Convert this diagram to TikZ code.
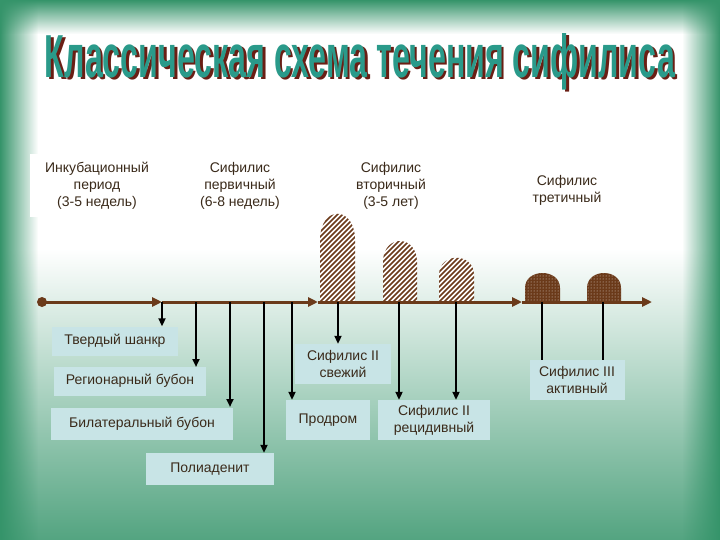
\documentclass[tikz,border=0pt]{standalone}
\usepackage{fontspec}
\setmainfont{Liberation Sans}
\usetikzlibrary{patterns,arrows.meta,fadings}
\definecolor{frame}{HTML}{35946A}
\definecolor{axisc}{HTML}{6B3A1A}
\definecolor{lowbox}{HTML}{C8E4E6}
\definecolor{txt}{HTML}{3A2A1A}
\definecolor{titlec}{HTML}{2A9A8A}
\definecolor{darkb}{HTML}{6A1E14}
\newcommand{\ttl}{\bfseries Классическая схема течения сифилиса}
\begin{document}
\begin{tikzpicture}[x=1pt,y=-1pt,
  topbox/.style={fill=white,align=center,font=\fontsize{14}{17}\selectfont,text=txt,inner sep=0pt},
  lowb/.style={fill=lowbox,align=center,font=\fontsize{14}{17}\selectfont,text=txt,inner sep=0pt},
  ax/.style={draw=axisc,line width=3pt,-{Triangle[length=10pt,width=9pt]}},
  vl/.style={draw=black,line width=2pt},
  va/.style={vl,-{Triangle[length=8pt,width=7pt]}}]
\useasboundingbox (0,0) rectangle (720,540);
\fill[white] (0,0) rectangle (720,250);
\shade[top color=white,bottom color=frame!85] (0,249) rectangle (720,540);
\fill[frame,path fading=east] (0,0) rectangle (38,540);
\fill[frame,path fading=west] (682,0) rectangle (720,540);
\fill[frame,path fading=south] (0,0) rectangle (720,34);
% title
\node (title) at (360,63) {\resizebox{630pt}{44pt}{\rlap{\hspace{0.08em}\raisebox{-0.06ex}{\color{darkb}\ttl}}\color{titlec}\ttl}};
% top boxes
\node[topbox,minimum width=135,minimum height=63] (t1) at (97,186) {Инкубационный\\период\\(3-5 недель)};
\node[topbox,minimum width=125,minimum height=63] (t2) at (240,186) {Сифилис\\первичный\\(6-8 недель)};
\node[topbox,minimum width=142,minimum height=63] (t3) at (391,186) {Сифилис\\вторичный\\(3-5 лет)};
\node[topbox,minimum width=119,minimum height=58] (t4) at (567,190) {Сифилис\\третичный};
% hatched bumps
\foreach \xa/\xb/\yt/\yc in {320/355/205/240,383/417/234/262,439/474/252/275}{
  \begin{scope}
  \path[clip] (\xa,302) -- (\xa,\yc) .. controls (\xa,\yt) and (\xb,\yt) .. (\xb,\yc) -- (\xb,302) -- cycle;
  \fill[white] (\xa,200) rectangle (\xb,302);
  \foreach \k in {-120,-115,...,40}{\draw[axisc,line width=1.6pt] (\xa+\k,302) -- (\xa+\k+110,192);}
  \end{scope}}
\foreach \xa/\xb in {525/560,587/621}{
\fill[axisc] (\xa,302) -- (\xa,288) .. controls (\xa,268) and (\xb,268) .. (\xb,288) -- (\xb,302) -- cycle;
\fill[pattern=dots,pattern color=white!80!axisc] (\xa,302) -- (\xa,288) .. controls (\xa,268) and (\xb,268) .. (\xb,288) -- (\xb,302) -- cycle;}
% axis
\coordinate (a0) at (42,302);
\coordinate (a1) at (162,302);
\coordinate (a2) at (318,302);
\coordinate (a3) at (522,302);
\coordinate (a4) at (652,302);
\fill[axisc] (a0) circle (5pt);
\draw[ax] (a0) -- (a1);
\draw[ax] (a1) -- (a2);
\draw[ax] (a2) -- (a3);
\draw[ax] (a3) -- (a4);
% lower boxes
\node[lowb,minimum width=126,minimum height=29] (b1) at (115,341) {Твердый шанкр};
\node[lowb,minimum width=152,minimum height=29] (b2) at (130,381) {Регионарный бубон};
\node[lowb,minimum width=182,minimum height=32] (b3) at (142,424) {Билатеральный бубон};
\node[lowb,minimum width=128,minimum height=32] (b4) at (210,469) {Полиаденит};
\node[lowb,minimum width=96,minimum height=40] (b5) at (343,364) {Сифилис II\\свежий};
\node[lowb,minimum width=84,minimum height=40] (b6) at (328,420) {Продром};
\node[lowb,minimum width=112,minimum height=40] (b7) at (434,420) {Сифилис II\\рецидивный};
\node[lowb,minimum width=95,minimum height=40] (b8) at (577,380) {Сифилис III\\активный};
% connectors
\coordinate (p1) at (162,302); \draw[va] (p1) -- (b1.north -| p1);
\coordinate (p2) at (196,302); \draw[va] (p2) -- (196,367);
\coordinate (p3) at (230,302); \draw[va] (p3) -- (230,407);
\coordinate (p4) at (264,302); \draw[va] (p4) -- (b4.north -| p4);
\coordinate (p5) at (292,302); \draw[va] (p5) -- (b6.north -| p5);
\coordinate (p6) at (338,302); \draw[va] (p6) -- (b5.north -| p6);
\coordinate (p7) at (399,302); \draw[va] (p7) -- (b7.north -| p7);
\coordinate (p8) at (456,302); \draw[va] (p8) -- (b7.north -| p8);
\coordinate (p9) at (542,302); \draw[vl] (p9) -- (b8.north -| p9);
\coordinate (p10) at (603,302); \draw[vl] (p10) -- (b8.north -| p10);
\end{tikzpicture}
\end{document}
